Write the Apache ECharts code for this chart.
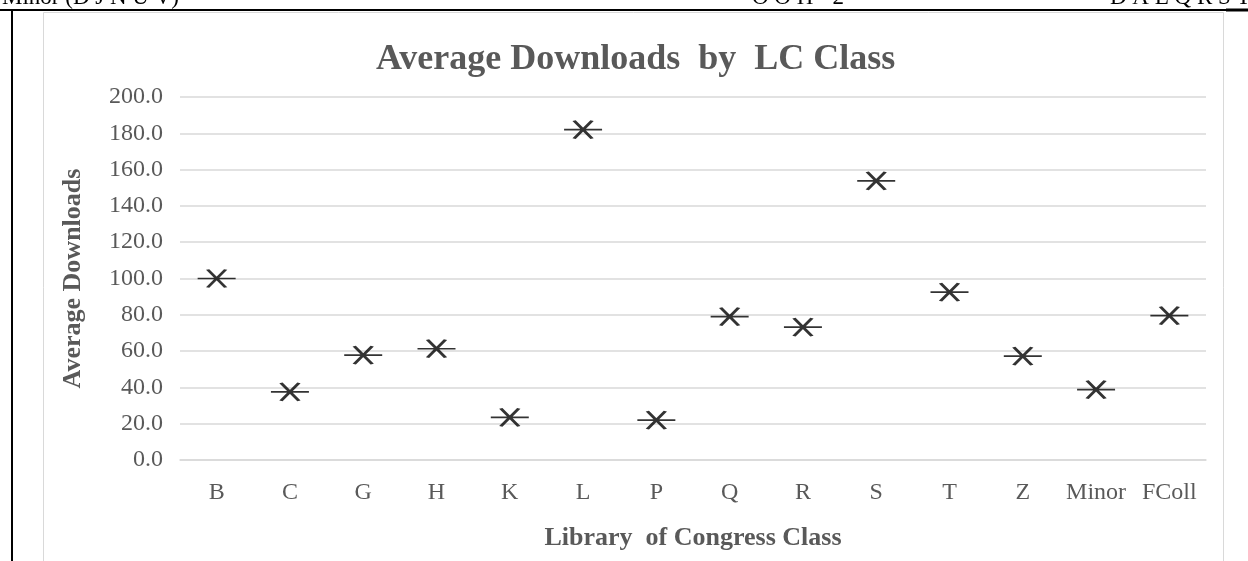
<!DOCTYPE html>
<html>
<head>
<meta charset="utf-8">
<script src="https://cdn.jsdelivr.net/npm/echarts@6/dist/echarts.min.js"></script>
<style>
    html, body { margin: 0; padding: 0; background: #fff; }
    #main { width: 1248px; height: 561px; }
</style>
</head>
<body>
<div id="main"></div>
<script type="text/javascript">
    // LC classes and their average downloads
    var classes = ['B', 'C', 'G', 'H', 'K', 'L', 'P', 'Q', 'R', 'S', 'T', 'Z', 'Minor', 'FColl'];
    var avgDownloads = [100.0, 37.5, 57.8, 61.3, 23.5, 182.0, 22.0, 79.0, 73.2, 153.8, 92.5, 57.2, 38.8, 79.5];
    var yTicks = { min: 0, max: 200, interval: 20 };

    var textGrey = '#595959';
    var gridGrey = '#d9d9d9';
    var serif = '"Liberation Serif", "Times New Roman", serif';

    // marker: an x crossed by a horizontal dash, 38 x 18 box
    var crossDash = 'path://M0,9L38,9M10,0L28,18M28,0L10,18';

    var myChart = echarts.init(document.getElementById('main'));

    var option = {
        backgroundColor: '#fff',
        animation: false,
        title: {
            text: 'Average Downloads  by  LC Class',
            left: 376,
            top: 37,
            padding: [5, 0, 5, 0],
            textStyle: {
                color: textGrey,
                fontFamily: serif,
                fontWeight: 'bold',
                fontSize: 36
            }
        },
        graphic: [
            // page bits cut off above the chart
            { type: 'line', shape: { x1: 0, y1: 10, x2: 1248, y2: 10 }, style: { stroke: '#000', lineWidth: 2 } },
            { type: 'line', shape: { x1: 12, y1: 10, x2: 12, y2: 561 }, style: { stroke: '#000', lineWidth: 2 } },
            { type: 'line', shape: { x1: 1226, y1: 10, x2: 1248, y2: 10 }, style: { stroke: '#000', lineWidth: 3 } },
            { type: 'text', left: 2, top: -14, style: { text: 'Minor (D J N U V)', fill: '#000', font: '23px ' + serif } },
            { type: 'text', left: 752, top: -14, style: { text: 'O O H - 2', fill: '#000', font: '23px ' + serif } },
            { type: 'text', left: 1110, top: -14, style: { text: 'D A E Q R S T', fill: '#000', font: '23px ' + serif } },
            // chart area border
            { type: 'rect', shape: { x: 43.5, y: 12.5, width: 1180, height: 600 }, style: { fill: 'none', stroke: gridGrey, lineWidth: 1 }, z: -1 }
        ],
        grid: {
            left: 180,
            right: 42,
            top: 97,
            bottom: 101
        },
        xAxis: {
            type: 'category',
            data: classes,
            name: 'Library  of Congress Class',
            nameLocation: 'middle',
            nameGap: 65,
            nameTextStyle: {
                color: textGrey,
                fontFamily: serif,
                fontWeight: 'bold',
                fontSize: 26
            },
            axisLine: { lineStyle: { color: gridGrey, width: 1.5 } },
            axisTick: { show: false },
            axisLabel: {
                interval: 0,
                color: textGrey,
                fontFamily: serif,
                fontSize: 24,
                margin: 21
            }
        },
        yAxis: {
            type: 'value',
            min: yTicks.min,
            max: yTicks.max,
            interval: yTicks.interval,
            name: 'Average Downloads',
            nameLocation: 'middle',
            nameGap: 94,
            nameTextStyle: {
                color: textGrey,
                fontFamily: serif,
                fontWeight: 'bold',
                fontSize: 26
            },
            axisLine: { show: false },
            axisTick: { show: false },
            splitLine: { lineStyle: { color: gridGrey, width: 1.5 } },
            axisLabel: {
                color: textGrey,
                fontFamily: serif,
                fontSize: 24,
                margin: 17,
                formatter: function (v) { return v.toFixed(1); }
            }
        },
        series: [
            {
                name: 'Average Downloads',
                type: 'scatter',
                data: avgDownloads,
                symbol: crossDash,
                symbolSize: [38, 18],
                itemStyle: {
                    color: '#000',
                    borderColor: '#000',
                    borderWidth: 2.5
                }
            }
        ]
    };
    myChart.setOption(option);
</script>
</body>
</html>
